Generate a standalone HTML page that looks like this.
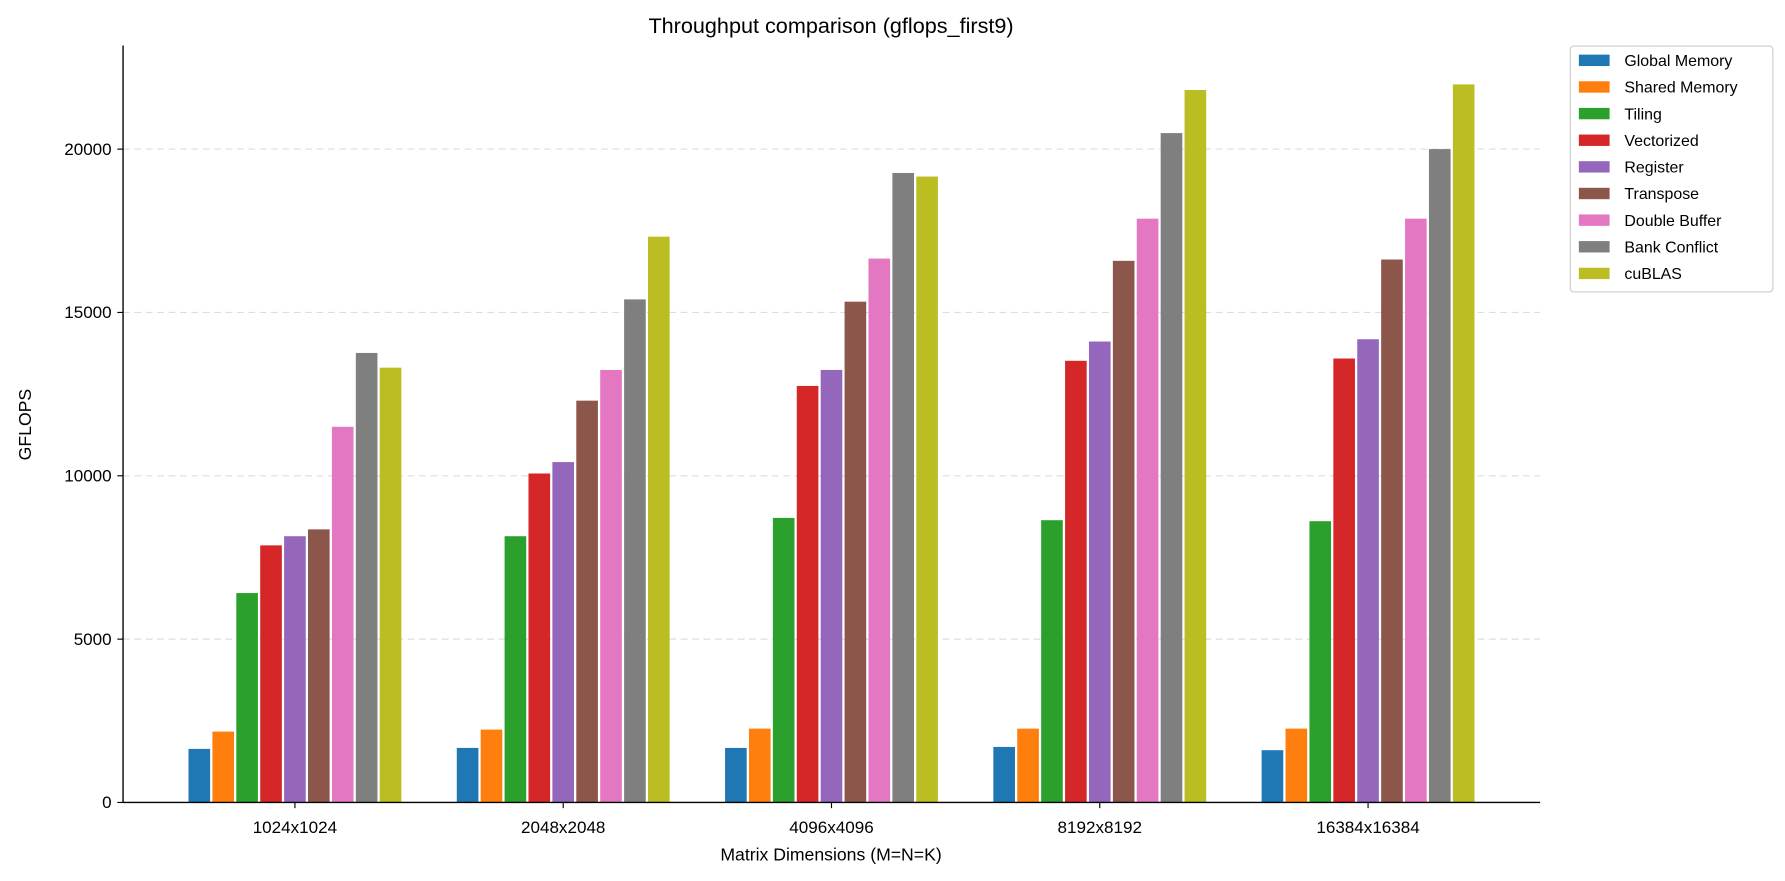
<!DOCTYPE html>
<html><head><meta charset="utf-8"><style>
body{margin:0;background:#fff;}
svg{display:block;}
svg text{font-family:"Liberation Sans","DejaVu Sans",sans-serif;fill:#000;}
</style></head><body>
<svg id="chart" width="1785" height="881" viewBox="0 0 1568 774" xmlns="http://www.w3.org/2000/svg">
<text x="730" y="29" font-size="19" text-anchor="middle">Throughput comparison (gflops_first9)</text>
<g id="grid"></g><g id="bars"></g><g id="axes"></g><g id="legend"></g>
<text x="730" y="756" font-size="15.5" text-anchor="middle">Matrix Dimensions (M=N=K)</text>
<text transform="translate(27,373) rotate(-90)" font-size="15.5" text-anchor="middle">GFLOPS</text>
</svg>
<script>
const categories=["1024x1024","2048x2048","4096x4096","8192x8192","16384x16384"];
const seriesNames=["Global Memory","Shared Memory","Tiling","Vectorized","Register","Transpose","Double Buffer","Bank Conflict","cuBLAS"];
const globalMem=[1640,1670,1670,1700,1600];
const sharedMem=[2170,2230,2260,2260,2260];
const tiling=[6410,8150,8710,8640,8610];
const vectorized=[7870,10070,12750,13520,13590];
const register=[8150,10420,13240,14110,14180];
const transpose=[8360,12300,15330,16580,16620];
const doubleBuffer=[11500,13240,16650,17870,17870];
const bankConflict=[13760,15400,19270,20490,20000];
const cublas=[13310,17320,19160,21810,21980];
const yTicks=[0,5000,10000,15000,20000];
const series=[globalMem,sharedMem,tiling,vectorized,register,transpose,doubleBuffer,bankConflict,cublas];
const colors=["#1f77b4","#ff7f0e","#2ca02c","#d62728","#9467bd","#8c564b","#e377c2","#7f7f7f","#bcbd22"];
const NS="http://www.w3.org/2000/svg";
const x0=108,x1=1353,yZero=705,yTop=40;
const yScale=v=>yZero-v/20000*574;
const groupX=i=>259+i*235.7;
const slot=21,bw=19;
function mk(tag,attrs,parent){const e=document.createElementNS(NS,tag);for(const k in attrs)e.setAttribute(k,attrs[k]);document.getElementById(parent).appendChild(e);return e;}
yTicks.forEach(t=>{
 if(t>0){const g=mk('line',{x1:x0,x2:x1,y1:yScale(t),y2:yScale(t),stroke:'#ddd','stroke-dasharray':'6,4','stroke-width':1},'grid');
 
 }
 const tl=mk('text',{x:x0-10,y:yScale(t)+5,'font-size':15,'text-anchor':'end'},'axes');tl.textContent=t;
 
 
 mk('line',{x1:x0-5,x2:x0,y1:yScale(t),y2:yScale(t),stroke:'#000'},'axes');
});
series.forEach((s,si)=>{s.forEach((v,ci)=>{
 const cx=groupX(ci)-4.5*slot+si*slot+(slot-bw)/2;
 const r=mk('rect',{x:cx,y:yScale(v),width:bw,height:yZero-yScale(v),fill:colors[si]},'bars');
 
 
});});
categories.forEach((c,ci)=>{
 mk('line',{x1:groupX(ci),x2:groupX(ci),y1:yZero,y2:yZero+5,stroke:'#000'},'axes');
 const t=mk('text',{x:groupX(ci),y:yZero+27,'font-size':15,'text-anchor':'middle'},'axes');t.textContent=c;
 
 
});
mk('line',{x1:x0,x2:x0,y1:yTop,y2:yZero,stroke:'#000','stroke-width':1.2},'axes');
mk('line',{x1:x0,x2:x1,y1:yZero,y2:yZero,stroke:'#000','stroke-width':1.2},'axes');
const lb=mk('rect',{x:1379.5,y:40.5,width:178,height:216,rx:3,fill:'#fff',stroke:'#ccc'},'legend');


seriesNames.forEach((n,i)=>{
 const y=53+i*23.4;
 mk('rect',{x:1387,y:y-5,width:27,height:10,fill:colors[i]},'legend');
 const t=mk('text',{x:1427,y:y+5,'font-size':14},'legend');t.textContent=n;
 
 
});
</script>
</body></html>
